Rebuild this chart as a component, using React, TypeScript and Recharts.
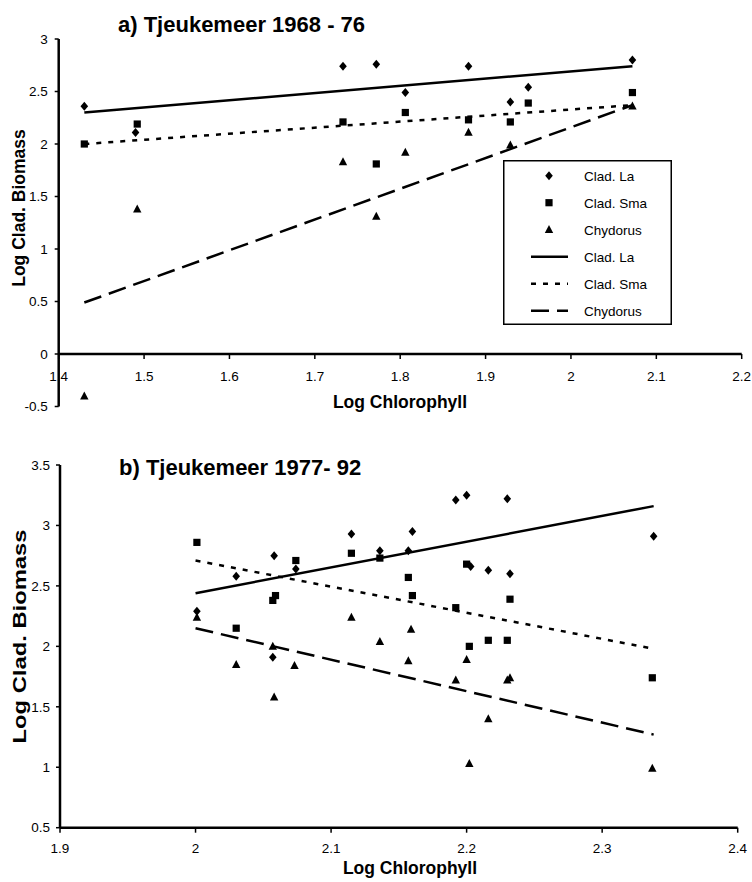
import * as React from 'react';
import { ScatterChart, Scatter, XAxis, YAxis, ReferenceLine, Legend } from 'recharts';

// ---- panel a) Tjeukemeer 1968 - 76 ----
const A_X_TICKS = [1.4, 1.5, 1.6, 1.7, 1.8, 1.9, 2, 2.1, 2.2];
const A_Y_TICKS = [-0.5, 0, 0.5, 1, 1.5, 2, 2.5, 3];
const A_LA = [
  { x: 1.43, y: 2.36 }, { x: 1.49, y: 2.11 }, { x: 1.733, y: 2.74 }, { x: 1.772, y: 2.76 },
  { x: 1.806, y: 2.49 }, { x: 1.88, y: 2.74 }, { x: 1.929, y: 2.4 }, { x: 1.95, y: 2.54 }, { x: 2.072, y: 2.8 },
];
const A_SMA = [
  { x: 1.43, y: 2.0 }, { x: 1.492, y: 2.19 }, { x: 1.733, y: 2.21 }, { x: 1.772, y: 1.81 },
  { x: 1.806, y: 2.3 }, { x: 1.88, y: 2.23 }, { x: 1.929, y: 2.21 }, { x: 1.95, y: 2.39 }, { x: 2.072, y: 2.49 },
];
const A_CHY = [
  { x: 1.43, y: -0.4 }, { x: 1.492, y: 1.38 }, { x: 1.733, y: 1.83 }, { x: 1.772, y: 1.31 },
  { x: 1.806, y: 1.92 }, { x: 1.88, y: 2.11 }, { x: 1.929, y: 1.99 }, { x: 2.072, y: 2.36 },
];
const A_LA_FIT = [{ x: 1.43, y: 2.3 }, { x: 2.072, y: 2.74 }];
const A_SMA_FIT = [{ x: 1.43, y: 2.0 }, { x: 2.072, y: 2.37 }];
const A_CHY_FIT = [{ x: 1.43, y: 0.49 }, { x: 2.072, y: 2.37 }];

// ---- panel b) Tjeukemeer 1977- 92 ----
const B_X_TICKS = [1.9, 2, 2.1, 2.2, 2.3, 2.4];
const B_Y_TICKS = [0.5, 1, 1.5, 2, 2.5, 3, 3.5];
const B_LA = [
  { x: 2.001, y: 2.29 }, { x: 2.03, y: 2.58 }, { x: 2.058, y: 2.75 }, { x: 2.057, y: 1.91 },
  { x: 2.074, y: 2.64 }, { x: 2.115, y: 2.93 }, { x: 2.136, y: 2.79 }, { x: 2.16, y: 2.95 },
  { x: 2.157, y: 2.79 }, { x: 2.192, y: 3.21 }, { x: 2.2, y: 3.25 }, { x: 2.203, y: 2.66 },
  { x: 2.216, y: 2.63 }, { x: 2.23, y: 3.22 }, { x: 2.232, y: 2.6 }, { x: 2.338, y: 2.91 },
];
const B_SMA = [
  { x: 2.001, y: 2.86 }, { x: 2.03, y: 2.15 }, { x: 2.057, y: 2.38 }, { x: 2.059, y: 2.42 },
  { x: 2.074, y: 2.71 }, { x: 2.115, y: 2.77 }, { x: 2.136, y: 2.73 }, { x: 2.157, y: 2.57 },
  { x: 2.16, y: 2.42 }, { x: 2.192, y: 2.32 }, { x: 2.2, y: 2.68 }, { x: 2.202, y: 2.0 },
  { x: 2.216, y: 2.05 }, { x: 2.23, y: 2.05 }, { x: 2.232, y: 2.39 }, { x: 2.337, y: 1.74 },
];
const B_CHY = [
  { x: 2.001, y: 2.24 }, { x: 2.03, y: 1.85 }, { x: 2.057, y: 2.0 }, { x: 2.058, y: 1.58 },
  { x: 2.073, y: 1.84 }, { x: 2.115, y: 2.24 }, { x: 2.136, y: 2.04 }, { x: 2.157, y: 1.88 },
  { x: 2.159, y: 2.14 }, { x: 2.192, y: 1.72 }, { x: 2.2, y: 1.89 }, { x: 2.202, y: 1.03 },
  { x: 2.216, y: 1.4 }, { x: 2.23, y: 1.72 }, { x: 2.232, y: 1.74 }, { x: 2.337, y: 0.99 },
];
const B_LA_FIT = [{ x: 2.0, y: 2.44 }, { x: 2.338, y: 3.16 }];
const B_SMA_FIT = [{ x: 2.0, y: 2.71 }, { x: 2.338, y: 1.98 }];
const B_CHY_FIT = [{ x: 2.0, y: 2.15 }, { x: 2.338, y: 1.27 }];

const LEGEND_NAMES = ['Clad. La', 'Clad. Sma', 'Chydorus', 'Clad. La', 'Clad. Sma', 'Chydorus'];

const FONT = '"Liberation Sans", Arial, Helvetica, sans-serif';
const SMA_DASH = '5 7';
const CHY_DASH = '18 8';
const LINE_W = 2.5;

// layout of panel a (axes cross at y = 0)
const A_TOP = 39, A_PLOT_H = 367.5, A_Y_MIN = -0.5, A_Y_MAX = 3;
const A_AXIS_Y = A_TOP + (A_PLOT_H * A_Y_MAX) / (A_Y_MAX - A_Y_MIN);

const Diamond = (p: any) => {
  const { cx, cy } = p;
  return <path d={`M${cx},${cy - 4.5}L${cx + 3.8},${cy}L${cx},${cy + 4.5}L${cx - 3.8},${cy}Z`} fill="#000" />;
};
const Square = (p: any) => <rect x={p.cx - 3.6} y={p.cy - 3.6} width={7.2} height={7.2} fill="#000" />;
const Triangle = (p: any) => {
  const { cx, cy } = p;
  return <path d={`M${cx},${cy - 4.6}L${cx + 4.2},${cy + 3.4}L${cx - 4.2},${cy + 3.4}Z`} fill="#000" />;
};
const NoDot = () => <g />;

const ATick = (p: any) => (
  <g>
    <line x1={p.x} x2={p.x} y1={A_AXIS_Y} y2={A_AXIS_Y + 5} stroke="#000" strokeWidth={1.5} />
    <text x={p.x} y={A_AXIS_Y + 26.5} textAnchor="middle" fontSize={13.5} fontFamily={FONT} fill="#000">{p.payload.value}</text>
  </g>
);

const tickStyle = { fontSize: 13.5, fontFamily: FONT, fill: '#000' };

function LegendBox() {
  const rowY = (i: number) => 15.7 + i * 27;
  const shapes = [Diamond, Square, Triangle];
  const dashes = [undefined, SMA_DASH, CHY_DASH];
  return (
    <svg width={169} height={165} style={{ display: 'block' }}>
      <rect x={0.75} y={0.75} width={167.5} height={163.5} fill="#fff" stroke="#000" strokeWidth={1.5} />
      {LEGEND_NAMES.map((name, i) => {
        const y = rowY(i);
        const Mark = shapes[i];
        return (
          <g key={i}>
            {i < 3 ? <Mark cx={46} cy={y} /> : (
              <line x1={28} x2={65} y1={y} y2={y} stroke="#000" strokeWidth={LINE_W} strokeDasharray={dashes[i - 3]} />
            )}
            <text x={81} y={y + 4.8} fontSize={13.5} fontFamily={FONT} fill="#000">{name}</text>
          </g>
        );
      })}
    </svg>
  );
}

function PanelA() {
  return (
    <ScatterChart width={752} height={440} margin={{ top: A_TOP, right: 10.3, bottom: 3.5, left: 0 }}>
      <XAxis type="number" dataKey="x" domain={[1.4, 2.2]} ticks={A_X_TICKS} height={30}
        axisLine={false} tickLine={false} tickSize={0} tickMargin={0} tick={(p: any) => <ATick {...p} />} />
      <YAxis type="number" dataKey="y" domain={[A_Y_MIN, A_Y_MAX]} ticks={A_Y_TICKS} width={58.7} stroke="#000"
        axisLine={{ stroke: '#000', strokeWidth: 2.5 }} tickLine={{ stroke: '#000', strokeWidth: 1.5 }}
        tickSize={4} tickMargin={7} tick={tickStyle} />
      <ReferenceLine y={0} stroke="#000" strokeWidth={2.5} />
      <Scatter name="Clad. La" data={A_LA} shape={Diamond} isAnimationActive={false} />
      <Scatter name="Clad. Sma" data={A_SMA} shape={Square} isAnimationActive={false} />
      <Scatter name="Chydorus" data={A_CHY} shape={Triangle} isAnimationActive={false} />
      <Scatter name="Clad. La fit" data={A_LA_FIT} shape={NoDot} line={{ stroke: '#000', strokeWidth: LINE_W }} isAnimationActive={false} />
      <Scatter name="Clad. Sma fit" data={A_SMA_FIT} shape={NoDot} line={{ stroke: '#000', strokeWidth: LINE_W, strokeDasharray: SMA_DASH }} isAnimationActive={false} />
      <Scatter name="Chydorus fit" data={A_CHY_FIT} shape={NoDot} line={{ stroke: '#000', strokeWidth: LINE_W, strokeDasharray: CHY_DASH }} isAnimationActive={false} />
      <Legend layout="vertical" align="center" verticalAlign="middle" content={() => <LegendBox />}
        wrapperStyle={{ left: 503, top: 160, width: 169, height: 165 }} />
    </ScatterChart>
  );
}

function PanelB() {
  return (
    <ScatterChart width={752} height={442} margin={{ top: 25, right: 14.3, bottom: 14.3, left: 0 }}>
      <XAxis type="number" dataKey="x" domain={[1.9, 2.4]} ticks={B_X_TICKS} height={40} stroke="#000"
        axisLine={{ stroke: '#000', strokeWidth: 2.5 }} tickLine={{ stroke: '#000', strokeWidth: 1.5 }}
        tickSize={5} tickMargin={11} tick={tickStyle} />
      <YAxis type="number" dataKey="y" domain={[0.5, 3.5]} ticks={B_Y_TICKS} width={60} stroke="#000"
        axisLine={{ stroke: '#000', strokeWidth: 2.5 }} tickLine={{ stroke: '#000', strokeWidth: 1.5 }}
        tickSize={4} tickMargin={6} tick={tickStyle} />
      <Scatter name="Clad. La" data={B_LA} shape={Diamond} isAnimationActive={false} />
      <Scatter name="Clad. Sma" data={B_SMA} shape={Square} isAnimationActive={false} />
      <Scatter name="Chydorus" data={B_CHY} shape={Triangle} isAnimationActive={false} />
      <Scatter name="Clad. La fit" data={B_LA_FIT} shape={NoDot} line={{ stroke: '#000', strokeWidth: LINE_W }} isAnimationActive={false} />
      <Scatter name="Clad. Sma fit" data={B_SMA_FIT} shape={NoDot} line={{ stroke: '#000', strokeWidth: LINE_W, strokeDasharray: SMA_DASH }} isAnimationActive={false} />
      <Scatter name="Chydorus fit" data={B_CHY_FIT} shape={NoDot} line={{ stroke: '#000', strokeWidth: LINE_W, strokeDasharray: CHY_DASH }} isAnimationActive={false} />
    </ScatterChart>
  );
}

export default function App() {
  const bold = { fontFamily: FONT, fontWeight: 700, fill: '#000' } as const;
  return (
    <div style={{ position: 'absolute', left: 0, top: 0, width: 752, height: 882, background: '#fff' }}>
      <div style={{ position: 'absolute', left: 0, top: 0 }}><PanelA /></div>
      <div style={{ position: 'absolute', left: 0, top: 440 }}><PanelB /></div>
      <svg width={752} height={882} style={{ position: 'absolute', left: 0, top: 0, pointerEvents: 'none' }}>
        <text x={118} y={31.5} fontSize={22} {...bold}>a) Tjeukemeer 1968 - 76</text>
        <text x={119} y={475} fontSize={22} {...bold}>b) Tjeukemeer 1977- 92</text>
        <text transform="translate(24.5,208) rotate(-90)" textAnchor="middle" fontSize={17.5} {...bold}>Log Clad. Biomass</text>
        <text transform="translate(25.5,636.5) rotate(-90)" textAnchor="middle" fontSize={18.5}
          textLength={214} lengthAdjust="spacingAndGlyphs" {...bold}>Log Clad. Biomass</text>
        <text x={400} y={408} textAnchor="middle" fontSize={17.5} {...bold}>Log Chlorophyll</text>
        <text x={410} y={874} textAnchor="middle" fontSize={17.5} {...bold}>Log Chlorophyll</text>
      </svg>
    </div>
  );
}
